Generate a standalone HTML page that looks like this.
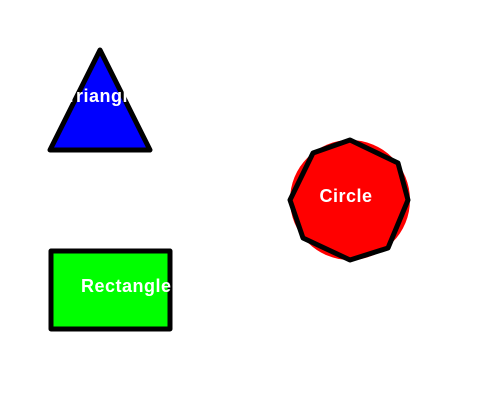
<!DOCTYPE html>
<html><head><style>body{margin:0;background:#fff}svg{display:block}</style></head>
<body>
<svg width="500" height="400" font-family="Liberation Sans, sans-serif" font-weight="bold" font-size="18">
<rect width="500" height="400" fill="#fff"/>
<polygon points="100,50 150,150 50,150" fill="#0000ff" stroke="#000" stroke-width="5" stroke-linejoin="round"/>
<text x="102" y="102" fill="#fff" text-anchor="middle" letter-spacing="0.5">Triangle</text>
<circle cx="350" cy="200" r="60" fill="#ff0000"/>
<polygon points="350,140 398,163 408,200 388,248 350,260 303,238 290,200 313,153" fill="none" stroke="#000" stroke-width="5" stroke-linejoin="round"/>
<text x="346" y="202" fill="#fff" text-anchor="middle" letter-spacing="0.5">Circle</text>
<rect x="51" y="251" width="119" height="78" fill="#00ff00" stroke="#000" stroke-width="5" stroke-linejoin="round"/>
<text x="81" y="292" fill="#fff" letter-spacing="0.5">Rectangle</text>
</svg>
</body></html>
